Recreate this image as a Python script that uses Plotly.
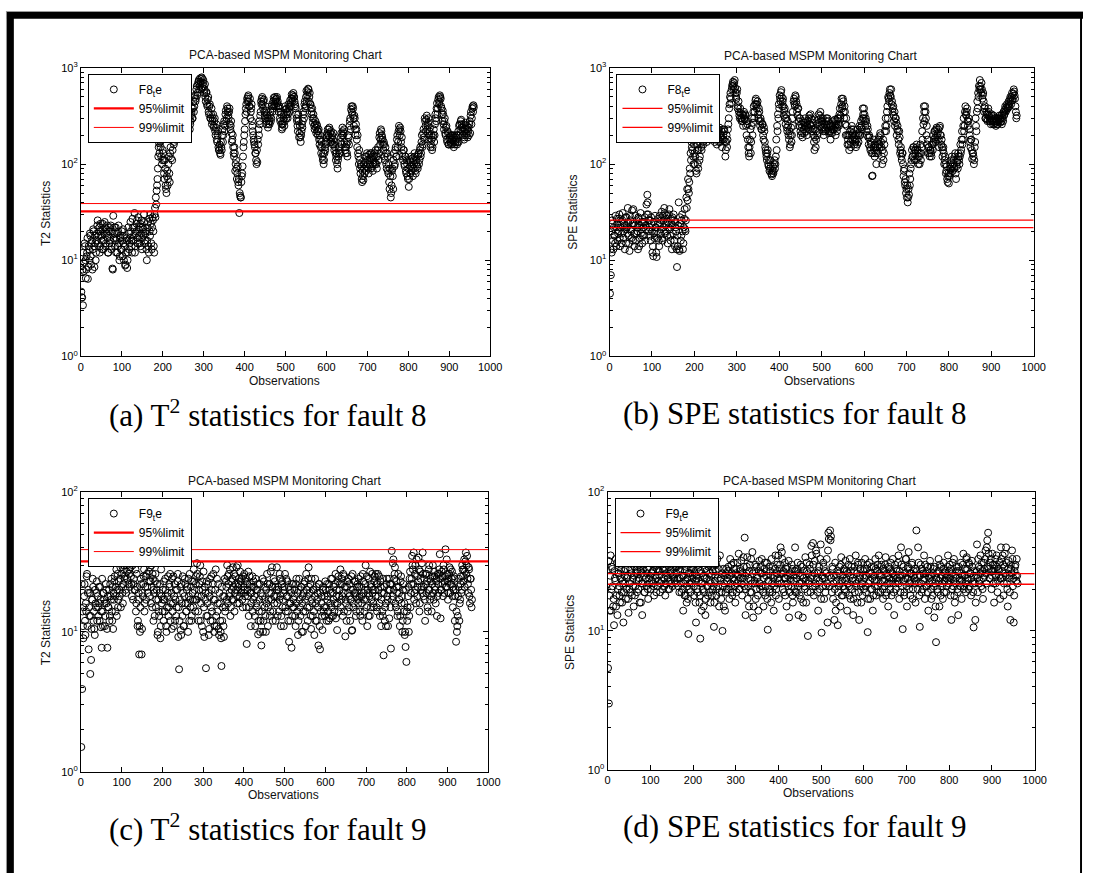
import plotly.graph_objects as go

FIG_W, FIG_H = 1095, 879

# ---------------- data ----------------
obs_odd = list(range(1, 961, 2))   # observations 1, 3, ..., 959
obs_even = list(range(2, 961, 2))  # observations 2, 4, ..., 960

t2_fault8_odd = [
    4.7, 4.1, 3.4, 7.7, 15, 10, 8, 12, 6.4, 14, 10, 18, 9, 16, 13, 20, 8.5, 15, 12, 19,
    26, 18, 22, 14, 20, 16, 24, 13, 19, 22, 15, 21, 17, 12, 20, 16, 23, 14, 8.2, 29,
    19, 14, 22, 17, 12, 20, 15, 11, 18, 13, 16, 21, 10, 14, 9, 17, 8.3, 12, 19, 15,
    25, 16, 12, 22, 18, 31, 14, 20, 26, 17, 21, 15, 24, 19, 13, 22, 18, 25, 16, 20,
    10, 22, 14, 27, 18, 24, 13, 28, 20, 12, 35, 45, 53, 70, 120, 165, 190, 150, 180, 110,
    130, 80, 110, 60, 50, 85, 70, 120, 65, 150, 180, 110, 200, 160, 230, 180, 260, 200, 240, 300,
    230, 300, 220, 280, 240, 330, 250, 220, 310, 260, 230, 290, 350, 260, 320, 380, 300, 450, 400, 520,
    480, 650, 550, 720, 600, 780, 700, 800, 620, 750, 550, 680, 450, 560, 400, 500, 330, 420, 300, 380,
    280, 330, 240, 300, 200, 260, 170, 220, 140, 160, 125, 150, 200, 170, 260, 220, 330, 280, 400, 350,
    300, 380, 230, 280, 170, 200, 130, 150, 85, 110, 70, 95, 60, 31, 47, 45, 75, 95, 150, 200,
    280, 380, 350, 450, 520, 400, 480, 350, 420, 250, 200, 170, 150, 130, 100, 105, 160, 200, 260, 350,
    420, 500, 380, 470, 320, 400, 260, 330, 240, 300, 260, 350, 300, 420, 380, 490, 420, 470, 400, 500,
    450, 350, 400, 280, 330, 230, 260, 300, 250, 400, 330, 380, 300, 420, 350, 460, 400, 530, 480, 550,
    500, 420, 380, 300, 250, 330, 190, 250, 170, 220, 240, 350, 300, 450, 400, 580, 520, 610, 450, 550,
    420, 330, 380, 270, 300, 230, 280, 210, 250, 200, 230, 160, 180, 130, 150, 110, 100, 130, 140, 170,
    190, 230, 200, 240, 170, 220, 190, 160, 210, 140, 150, 110, 130, 90, 120, 150, 130, 190, 160, 240,
    200, 230, 150, 130, 160, 120, 200, 160, 280, 230, 400, 330, 380, 250, 300, 200, 230, 150, 130, 100,
    110, 80, 95, 65, 75, 100, 80, 120, 95, 130, 100, 80, 110, 130, 90, 120, 85, 110, 130, 100,
    120, 90, 140, 110, 190, 160, 230, 200, 180, 140, 160, 110, 130, 90, 120, 80, 65, 90, 45, 60,
    90, 55, 130, 100, 150, 120, 200, 170, 250, 200, 220, 150, 130, 110, 140, 95, 120, 80, 100, 70,
    58, 110, 80, 120, 95, 75, 110, 130, 85, 100, 120, 90, 130, 110, 150, 130, 200, 160, 230, 180,
    280, 220, 320, 250, 300, 200, 240, 160, 180, 150, 200, 170, 260, 300, 380, 330, 470, 420, 520, 480,
    380, 280, 330, 230, 300, 200, 250, 170, 210, 160, 190, 170, 200, 160, 190, 150, 200, 170, 180, 160,
    200, 170, 260, 230, 290, 240, 200, 260, 190, 230, 200, 250, 190, 240, 260, 210, 350, 300, 400, 410,
]
t2_fault8_even = [
    4.1, 8, 12, 9.5, 14, 6.5, 11, 17, 8.5, 13, 19, 11, 15, 8, 21, 14, 18, 10, 16, 23,
    15, 20, 12, 24, 18, 13, 21, 16, 25, 14, 19, 23, 12, 18, 15, 22, 13, 20, 8, 17,
    22, 16, 12, 19, 14, 23, 10, 17, 13, 20, 11, 15, 18, 8.8, 12, 16, 10, 22, 13, 17,
    20, 14, 27, 16, 22, 12, 19, 24, 15, 28, 18, 22, 14, 26, 17, 21, 30, 15, 19, 13,
    16, 25, 12, 20, 30, 15, 22, 26, 14, 30, 28, 38, 60, 90, 150, 130, 170, 120, 100, 140,
    110, 70, 90, 55, 75, 60, 100, 80, 130, 115, 190, 140, 220, 170, 200, 250, 210, 230, 270, 240,
    270, 220, 300, 250, 260, 230, 290, 240, 280, 330, 250, 300, 230, 280, 340, 300, 380, 350, 500, 450,
    600, 520, 680, 750, 650, 720, 600, 780, 700, 650, 600, 500, 550, 420, 470, 350, 400, 300, 330, 260,
    300, 250, 280, 220, 240, 180, 200, 150, 140, 130, 170, 140, 230, 200, 280, 250, 360, 300, 380, 320,
    350, 260, 250, 210, 180, 150, 120, 130, 100, 90, 80, 65, 70, 50, 45, 65, 80, 120, 170, 230,
    330, 420, 480, 500, 450, 400, 300, 380, 280, 220, 180, 160, 130, 110, 140, 180, 230, 280, 320, 450,
    480, 420, 450, 350, 300, 360, 280, 300, 260, 280, 320, 280, 400, 350, 450, 400, 500, 450, 480, 430,
    400, 380, 300, 350, 260, 240, 280, 330, 280, 370, 300, 350, 330, 380, 400, 430, 480, 450, 520, 500,
    450, 400, 330, 280, 220, 280, 210, 190, 200, 260, 280, 330, 420, 380, 500, 450, 560, 600, 500, 420,
    380, 350, 300, 330, 250, 260, 240, 260, 220, 220, 180, 200, 150, 170, 120, 130, 110, 150, 160, 200,
    210, 200, 230, 190, 210, 170, 200, 180, 160, 170, 130, 120, 100, 110, 140, 130, 170, 210, 200, 220,
    210, 170, 140, 150, 130, 170, 190, 250, 300, 370, 350, 400, 300, 320, 230, 260, 180, 200, 120, 140,
    90, 100, 70, 85, 68, 90, 105, 85, 120, 110, 90, 125, 100, 115, 130, 95, 100, 120, 105, 140,
    100, 120, 150, 130, 210, 180, 220, 190, 160, 170, 120, 150, 100, 130, 85, 100, 55, 75, 50, 85,
    75, 110, 95, 140, 120, 180, 150, 220, 230, 240, 170, 190, 120, 140, 100, 120, 85, 110, 75, 90,
    70, 95, 105, 85, 115, 90, 100, 120, 80, 110, 95, 125, 100, 140, 120, 170, 150, 210, 190, 300,
    250, 290, 230, 270, 180, 220, 150, 200, 140, 190, 230, 200, 330, 280, 430, 380, 500, 450, 500, 400,
    330, 360, 260, 280, 210, 240, 180, 220, 160, 180, 200, 160, 180, 200, 170, 190, 160, 190, 200, 170,
    220, 250, 200, 280, 260, 220, 240, 180, 220, 270, 210, 230, 220, 200, 280, 320, 260, 380, 350, 390,
]

spe_fault8_odd = [
    4.5, 7, 12, 24, 13, 18, 15, 22, 27, 16, 20, 30, 14, 25, 19, 31, 17, 23, 28, 15,
    22, 35, 18, 12.5, 26, 20, 33, 16, 24, 14, 29, 19, 22, 13, 27, 17, 31, 21, 15, 25,
    18, 28, 23, 38, 48, 30, 20, 26, 16, 24, 12, 11, 19, 29, 22, 10.8, 17, 27, 14, 24,
    21, 32, 16, 26, 35, 19, 24, 29, 15, 22, 34, 18, 27, 13, 23, 30, 16, 25, 20, 8.5,
    14, 40, 12.5, 24, 18, 30, 13, 22, 34, 20, 45, 55, 70, 50, 90, 130, 170, 140, 120, 160,
    100, 180, 80, 140, 90, 170, 120, 200, 140, 230, 160, 210, 190, 250, 170, 220, 200, 260, 180, 230,
    200, 240, 180, 220, 190, 230, 160, 210, 180, 240, 170, 200, 150, 230, 180, 220, 120, 170, 150, 230,
    300, 420, 550, 430, 650, 720, 600, 750, 550, 480, 600, 400, 350, 300, 340, 280, 330, 250, 350, 290,
    320, 200, 260, 150, 120, 180, 130, 250, 200, 350, 300, 420, 480, 380, 450, 300, 350, 250, 280, 230,
    260, 180, 220, 150, 130, 110, 140, 95, 85, 110, 80, 75, 95, 85, 110, 100, 180, 250, 330, 420,
    520, 450, 590, 400, 480, 320, 380, 260, 300, 220, 250, 180, 150, 200, 170, 300, 250, 480, 400, 500,
    420, 320, 380, 250, 300, 200, 240, 190, 270, 210, 300, 250, 200, 280, 230, 320, 260, 300, 220, 270,
    200, 140, 230, 180, 260, 210, 330, 250, 350, 280, 240, 300, 200, 260, 220, 300, 240, 280, 210, 250,
    180, 250, 210, 280, 230, 290, 200, 260, 240, 300, 250, 380, 320, 480, 400, 450, 300, 350, 200, 250,
    160, 200, 140, 220, 150, 250, 180, 230, 160, 200, 150, 180, 230, 170, 250, 200, 280, 230, 380, 300,
    330, 250, 280, 200, 230, 160, 190, 140, 160, 75, 130, 180, 120, 150, 100, 170, 130, 190, 150, 200,
    150, 100, 180, 130, 220, 300, 250, 400, 500, 450, 600, 500, 420, 350, 400, 280, 250, 300, 200, 250,
    180, 220, 130, 150, 110, 130, 75, 90, 60, 50, 45, 40, 55, 80, 70, 100, 140, 120, 150, 110,
    140, 110, 150, 120, 130, 100, 160, 130, 220, 300, 400, 280, 350, 200, 160, 130, 150, 120, 140, 120,
    160, 200, 180, 220, 170, 240, 190, 230, 150, 250, 200, 180, 120, 150, 100, 120, 80, 95, 65, 80,
    75, 100, 90, 120, 85, 110, 95, 130, 70, 110, 90, 120, 100, 160, 140, 220, 180, 300, 250, 400,
    320, 380, 250, 300, 200, 150, 180, 113, 130, 100, 150, 300, 220, 450, 550, 650, 750, 600, 700, 480,
    550, 350, 400, 300, 330, 280, 380, 320, 300, 260, 330, 280, 320, 260, 300, 250, 280, 260, 300, 320,
    270, 320, 260, 300, 350, 330, 400, 360, 420, 380, 450, 400, 500, 420, 550, 480, 600, 520, 400, 300,
]
spe_fault8_even = [
    13, 20, 26, 16, 22, 18, 29, 14, 24, 19, 27, 17, 22, 15, 26, 20, 24, 13, 21, 28,
    19, 25, 15, 29, 21, 17, 24, 34, 19, 23, 16, 26, 20, 28, 14, 23, 19, 25, 18, 22,
    25, 16, 21, 30, 40, 26, 22, 18, 28, 20, 14, 25, 17, 22, 12, 20, 24, 16, 29, 19,
    26, 17, 29, 22, 31, 20, 27, 18, 25, 30, 21, 16, 24, 28, 19, 26, 14, 22, 13, 18,
    23, 13, 28, 16, 26, 20, 15, 27, 21, 26, 35, 42, 55, 65, 80, 110, 150, 180, 100, 130,
    120, 85, 160, 100, 140, 110, 190, 150, 210, 170, 230, 180, 220, 200, 240, 190, 230, 210, 250, 200,
    230, 190, 210, 170, 240, 200, 190, 230, 170, 210, 190, 220, 180, 200, 230, 170, 140, 200, 180, 260,
    380, 500, 480, 600, 680, 650, 700, 620, 500, 550, 380, 450, 320, 380, 300, 300, 280, 320, 300, 330,
    250, 280, 180, 130, 150, 230, 170, 300, 270, 400, 350, 460, 420, 420, 330, 380, 280, 300, 230, 260,
    200, 240, 170, 140, 120, 130, 100, 110, 90, 95, 78, 85, 80, 100, 90, 120, 140, 220, 300, 380,
    480, 560, 500, 450, 400, 360, 300, 330, 240, 280, 200, 220, 160, 240, 200, 350, 450, 420, 520, 450,
    350, 380, 280, 300, 220, 260, 210, 280, 230, 250, 270, 220, 250, 240, 300, 260, 330, 250, 290, 230,
    170, 190, 150, 220, 200, 290, 270, 320, 300, 260, 280, 220, 240, 230, 280, 260, 300, 220, 260, 220,
    210, 230, 250, 230, 260, 250, 280, 220, 300, 260, 330, 300, 420, 380, 480, 350, 400, 260, 300, 200,
    180, 160, 200, 170, 230, 200, 210, 190, 180, 170, 200, 160, 200, 210, 200, 240, 250, 300, 330, 380,
    280, 300, 220, 250, 190, 200, 150, 170, 130, 76, 150, 140, 160, 130, 140, 150, 180, 160, 210, 170,
    120, 140, 110, 160, 250, 220, 350, 300, 480, 550, 520, 600, 450, 380, 320, 350, 300, 270, 230, 220,
    160, 190, 140, 120, 130, 100, 85, 65, 70, 55, 60, 45, 48, 60, 90, 110, 120, 150, 130, 140,
    130, 160, 140, 100, 120, 130, 110, 150, 180, 260, 350, 400, 300, 250, 180, 150, 130, 140, 130, 160,
    140, 170, 220, 190, 230, 200, 210, 180, 240, 200, 160, 150, 140, 130, 110, 100, 85, 70, 75, 63,
    90, 80, 110, 95, 100, 90, 120, 80, 95, 105, 130, 110, 120, 130, 180, 160, 250, 220, 350, 330,
    350, 280, 280, 230, 170, 180, 140, 130, 120, 110, 170, 250, 350, 380, 500, 600, 650, 550, 600, 520,
    450, 380, 300, 350, 290, 330, 350, 280, 280, 320, 290, 260, 280, 300, 270, 280, 260, 300, 280, 290,
    300, 280, 330, 280, 320, 370, 350, 390, 380, 400, 420, 470, 450, 500, 460, 540, 570, 480, 350, 320,
]

t2_fault9_odd = [
    1.5, 3.9, 11, 15, 22, 9.5, 14, 26, 19, 7.5, 13, 5, 6.3, 17, 24, 12, 10.5, 20, 15, 23,
    18, 13, 16, 21, 10.8, 7.7, 14, 19, 17, 11, 22, 16, 7.7, 15, 20, 13, 18, 24, 12, 10.5,
    17, 25, 14, 28, 20, 15, 23, 18, 29, 21, 26, 16, 30, 24, 33, 19, 27, 35, 22, 28,
    34, 25, 18, 30, 22, 35, 20, 14, 26, 11, 17, 6.9, 10, 24, 6.9, 19, 22, 28, 16, 25,
    33, 21, 35, 27, 18, 23, 30, 15, 24, 20, 13, 26, 17, 22, 10, 14, 19, 9, 28, 16,
    20, 12, 17, 24, 11, 15, 19, 13, 22, 26, 16, 10.5, 14, 25, 18, 12, 20, 15, 23, 9.2,
    5.4, 17, 10.3, 22, 13, 19, 11, 24, 16, 14, 21, 10, 18, 26, 15, 12, 23, 17, 28, 20,
    14, 25, 31, 18, 12, 22, 30, 16, 11, 20, 27, 9.2, 17, 5.5, 23, 13, 19, 10.5, 24, 15,
    20, 12, 26, 10, 17, 28, 11, 14, 22, 9.5, 16, 10, 5.7, 12, 18, 9.2, 24, 15, 21, 30,
    16, 26, 19, 13, 23, 17, 29, 21, 14, 25, 20, 18, 30, 22, 16, 27, 19, 24, 15, 21,
    26, 18, 23, 8.2, 20, 27, 15, 22, 11, 19, 25, 17, 21, 13, 24, 16, 20, 9.6, 14, 22,
    12, 8, 18, 10, 23, 15, 13, 20, 26, 11, 17, 22, 14, 19, 29, 12, 24, 16, 21, 18,
    29, 13, 20, 17, 24, 11, 22, 15, 19, 21, 26, 14, 18, 23, 12, 8.5, 20, 16, 7.7, 13,
    22, 15, 18, 11, 24, 14, 9.5, 20, 17, 13, 21, 16, 10, 19, 23, 14, 26, 18, 12, 29,
    15, 22, 10.5, 17, 13, 20, 9.5, 24, 16, 12, 19, 8, 22, 7.5, 14, 18, 10.3, 21, 15, 13,
    20, 12, 17, 14, 22, 12.5, 19, 15, 24, 13, 21, 16, 26, 18, 10.3, 23, 14, 20, 28, 17,
    22, 13, 19, 25, 9.3, 16, 21, 14, 24, 18, 12, 20, 10.2, 26, 15, 19, 23, 13, 18, 22,
    16, 21, 14, 25, 18, 12, 23, 17, 20, 30, 15, 11, 19, 24, 13, 22, 17, 26, 20, 15,
    25, 18, 22, 14, 26, 20, 16, 23, 11, 19, 13, 6.8, 21, 15, 11, 24, 17, 20, 12.5, 22,
    7.6, 38, 18, 33, 24, 29, 15, 21, 13, 26, 19, 11, 23, 16, 10, 20, 14, 9.5, 7.8, 6.1,
    12, 18, 10, 24, 15, 22, 35, 28, 37, 19, 30, 16, 25, 21, 34, 14, 27, 20, 31, 37,
    18, 24, 12, 22, 26, 15, 20, 30, 17, 23, 14, 25, 19, 27, 21, 16, 24, 18, 22, 26,
    36, 12.5, 20, 25, 18, 28, 23, 39, 21, 26, 17, 24, 29, 19, 22, 27, 15, 20, 24, 18,
    8.5, 10, 13, 21, 12, 17, 25, 20, 28, 23, 33, 27, 37, 30, 24, 19, 28, 16, 24, 15,
]
t2_fault9_even = [
    22, 14, 9, 18, 12, 16, 25, 11, 20, 15, 19, 13, 10.5, 17, 21, 14, 9.5, 16, 19, 12,
    15, 21, 12, 17, 14, 24, 11, 19, 16, 13, 20, 10.5, 18, 15, 12, 22, 17, 14, 21, 19,
    23, 18, 21, 13, 26, 17, 20, 24, 15, 31, 19, 22, 28, 25, 20, 30, 24, 34, 26, 21,
    29, 22, 33, 17, 24, 20, 28, 16, 21, 12, 19, 11, 15, 22, 10.5, 18, 25, 14, 21, 17,
    26, 19, 34, 23, 29, 16, 21, 26, 12, 19, 23, 15, 20, 9.5, 17, 13, 22, 11, 18, 14,
    17, 23, 14, 20, 10, 18, 25, 15, 21, 12, 19, 24, 16, 11, 22, 17, 13, 20, 26, 15,
    12, 21, 9.5, 16, 25, 11, 18, 22, 14, 20, 16, 24, 12, 17, 21, 13, 19, 15, 23, 17,
    22, 17, 26, 14, 20, 25, 12, 18, 23, 10, 15, 21, 19, 13, 16, 22, 9.5, 18, 12, 25,
    14, 22, 17, 11, 20, 13, 24, 16, 10.5, 19, 12, 9, 21, 15, 11, 18, 14, 23, 17, 25,
    22, 18, 28, 15, 20, 24, 17, 26, 19, 22, 29, 16, 21, 24, 18, 23, 20, 17, 25, 19,
    20, 24, 15, 22, 18, 13, 25, 19, 16, 21, 14, 23, 18, 11, 20, 15, 22, 12, 17, 10,
    19, 14, 24, 12, 17, 21, 10, 16, 22, 15, 19, 13, 27, 17, 21, 14, 18, 23, 12, 20,
    16, 21, 14, 26, 18, 13, 23, 17, 11, 20, 15, 24, 18, 14, 21, 16, 12, 19, 22, 15,
    17, 20, 13, 22, 16, 19, 12, 24, 15, 21, 10, 18, 14, 22, 17, 11, 20, 15, 24, 21,
    19, 13, 24, 16, 20, 14, 18, 12, 21, 17, 15, 22, 11, 19, 16, 13, 20, 14, 18, 23,
    15, 22, 18, 12, 20, 16, 24, 13, 19, 17, 14, 22, 12.5, 20, 16, 25, 18, 22, 15, 24,
    18, 26, 14, 21, 17, 12, 23, 19, 15, 22, 17, 25, 10.3, 20, 16, 23, 19, 14, 21, 17,
    24, 18, 13, 21, 16, 26, 19, 14, 22, 17, 25, 20, 13, 18, 27, 15, 21, 19, 16, 23,
    20, 26, 15, 22, 18, 25, 13, 21, 17, 14, 24, 19, 12, 16, 22, 18, 11, 24, 20, 15,
    22, 17, 31, 20, 26, 16, 23, 19, 14, 21, 17, 13, 25, 18, 12, 22, 16, 10, 20, 14,
    15, 21, 13, 27, 19, 24, 30, 22, 17, 26, 20, 33, 18, 23, 28, 16, 24, 21, 19, 26,
    21, 17, 26, 19, 23, 14, 28, 20, 24, 18, 22, 30, 17, 25, 20, 23, 13, 26, 19, 28,
    24, 20, 27, 22, 30, 19, 25, 21, 33, 23, 19, 26, 22, 28, 24, 18, 21, 25, 12, 20,
    14, 11, 18, 24, 16, 22, 19, 30, 25, 28, 21, 32, 26, 35, 22, 29, 18, 24, 20, 17,
]

spe_fault9_odd = [
    5.4, 3, 14, 35, 20, 28, 15, 11, 24, 33, 18, 13, 26, 21, 16, 30, 19, 23, 11.5, 27,
    22, 17, 31, 25, 13.5, 20, 28, 34, 18, 24, 15, 29, 21, 26, 19, 32, 23, 16, 27, 22,
    13, 30, 25, 19, 33, 21, 28, 17, 24, 31, 20, 26, 35, 22, 18, 29, 24, 33, 21, 27,
    25, 19, 32, 23, 28, 35, 21, 18, 26, 30, 24, 33, 20, 27, 22, 31, 25, 36, 23, 29,
    26, 33, 21, 28, 24, 30, 19, 25, 14, 22, 27, 18, 16, 24, 9.5, 20, 26, 29, 22, 25,
    28, 18, 23, 11.5, 25, 19, 29, 16, 8.8, 22, 26, 20, 15, 24, 13, 27, 21, 18, 30, 23,
    16, 25, 20, 29, 10.7, 23, 27, 18, 33, 21, 15, 35, 24, 19, 10, 28, 22, 14, 26, 20,
    24, 29, 17, 33, 21, 26, 19, 31, 23, 16, 28, 22, 25, 36, 20, 27, 32, 18, 24, 29,
    47, 13, 26, 34, 21, 15, 30, 23, 19, 37, 12.5, 27, 22, 17, 29, 24, 14, 32, 20, 26,
    33, 21, 15, 28, 18, 25, 31, 10.2, 23, 19, 27, 16, 22, 29, 14, 25, 35, 20, 30, 24,
    17, 28, 40, 22, 33, 26, 19, 31, 24, 15, 29, 21, 12.5, 26, 23, 30, 18, 25, 20, 40,
    27, 19, 31, 13, 22, 25, 17, 29, 12.5, 24, 21, 34, 16, 27, 9.2, 23, 30, 19, 41, 25,
    43, 18, 32, 22, 36, 26, 14, 29, 20, 42, 9.7, 24, 31, 17, 27, 21, 33, 11.5, 51, 25,
    53, 48, 19, 28, 22, 12, 31, 16, 25, 11, 21, 29, 15, 34, 23, 18, 27, 20, 32, 24,
    14, 26, 21, 33, 17, 29, 23, 13, 27, 19, 35, 22, 16, 30, 12, 25, 21, 31, 18, 27,
    24, 33, 19, 28, 9.8, 22, 31, 17, 26, 20, 14, 29, 23, 33, 18, 27, 21, 35, 25, 19,
    30, 23, 17, 27, 21, 34, 19, 25, 15, 28, 22, 31, 18, 26, 24, 13, 30, 20, 27, 23,
    35, 17, 25, 40, 21, 10.3, 29, 19, 24, 33, 15, 28, 37, 22, 18, 26, 31, 20, 27, 24,
    16, 53, 25, 40, 22, 10.7, 30, 19, 27, 23, 35, 17, 26, 21, 29, 14, 24, 32, 20, 25,
    18, 28, 12.5, 22, 8.3, 26, 19, 33, 15, 24, 29, 21, 17, 31, 23, 27, 19, 25, 35, 22,
    30, 18, 12, 26, 21, 33, 16, 24, 29, 20, 13, 27, 23, 31, 17, 25, 36, 21, 28, 19,
    34, 24, 20, 30, 26, 18, 32, 22, 10.6, 27, 12, 25, 42, 19, 29, 23, 35, 21, 27, 17,
    31, 25, 38, 22, 45, 51, 28, 24, 33, 20, 36, 27, 16, 30, 22, 35, 19, 28, 25, 17,
    40, 24, 35, 18, 29, 26, 40, 22, 15, 32, 25, 12, 28, 38, 21, 11.5, 27, 30, 23, 25,
]
spe_fault9_even = [
    32, 18, 25, 14, 29, 21, 17, 27, 23, 15, 31, 20, 26, 18, 24, 28, 16, 22, 19, 25,
    28, 20, 24, 17, 33, 22, 19, 26, 30, 21, 25, 18, 34, 23, 27, 20, 24, 29, 16, 26,
    22, 28, 19, 31, 24, 26, 20, 29, 22, 25, 33, 23, 27, 21, 30, 25, 19, 28, 23, 31,
    27, 22, 30, 20, 33, 24, 28, 22, 31, 25, 20, 29, 23, 26, 34, 21, 28, 24, 30, 22,
    29, 24, 31, 19, 27, 22, 35, 20, 25, 18, 23, 29, 21, 17, 26, 22, 19, 28, 24, 30,
    21, 26, 16, 24, 20, 30, 23, 18, 27, 14, 22, 25, 19, 28, 17, 24, 21, 29, 19, 26,
    22, 18, 27, 21, 16, 25, 30, 20, 24, 28, 19, 23, 17, 26, 21, 15, 25, 19, 28, 23,
    27, 20, 25, 22, 30, 18, 24, 28, 21, 26, 19, 31, 23, 20, 28, 24, 22, 26, 34, 21,
    25, 20, 29, 17, 24, 27, 19, 33, 22, 26, 15, 23, 30, 20, 25, 18, 27, 22, 29, 21,
    26, 19, 24, 31, 21, 27, 17, 23, 29, 20, 25, 33, 19, 24, 21, 28, 18, 26, 22, 35,
    23, 30, 26, 37, 20, 27, 24, 18, 28, 22, 25, 32, 19, 24, 21, 28, 16, 23, 27, 19,
    24, 28, 21, 26, 18, 30, 22, 25, 16, 27, 20, 23, 31, 19, 26, 22, 28, 24, 35, 21,
    30, 26, 21, 38, 24, 19, 27, 23, 33, 17, 25, 21, 29, 24, 19, 26, 22, 38, 46, 21,
    45, 24, 29, 17, 25, 20, 14, 23, 27, 19, 26, 22, 30, 18, 25, 21, 28, 23, 19, 27,
    22, 30, 18, 25, 27, 20, 24, 17, 29, 23, 21, 26, 31, 19, 24, 28, 16, 22, 25, 20,
    28, 21, 25, 30, 17, 26, 23, 20, 29, 24, 18, 25, 21, 28, 23, 30, 19, 26, 22, 29,
    25, 20, 28, 23, 30, 18, 26, 22, 29, 24, 20, 27, 23, 33, 19, 25, 22, 28, 24, 31,
    22, 27, 19, 30, 25, 23, 18, 26, 33, 21, 24, 29, 20, 26, 23, 30, 17, 25, 22, 28,
    23, 27, 20, 31, 18, 25, 22, 28, 20, 26, 24, 30, 21, 27, 19, 25, 22, 29, 17, 23,
    26, 21, 29, 15, 24, 20, 27, 23, 30, 18, 25, 22, 28, 19, 26, 24, 21, 29, 23, 27,
    24, 28, 20, 31, 23, 18, 25, 22, 27, 19, 29, 24, 21, 26, 23, 30, 20, 25, 22, 33,
    28, 23, 31, 21, 26, 24, 29, 19, 25, 22, 16, 27, 24, 33, 22, 28, 26, 31, 20, 24,
    28, 33, 26, 40, 29, 36, 24, 31, 27, 25, 30, 22, 28, 33, 25, 29, 23, 27, 31, 24,
    33, 27, 30, 22, 36, 25, 31, 20, 28, 24, 19, 30, 26, 33, 24, 18, 29, 25, 33, 22,
]

# control limits [95%, 99%]
t2_fault8_limits = [32.3, 38.9]
spe_fault8_limits = [21.9, 26.2]
t2_fault9_limits = [32.0, 38.8]
spe_fault9_limits = [21.7, 25.9]

limit_names = ["95%limit", "99%limit"]
series_names = ["F8<sub>t</sub>e", "F8<sub>t</sub>e", "F9<sub>t</sub>e", "F9<sub>t</sub>e"]
y_titles = ["T2 Statistics", "SPE Statistics", "T2 Statistics", "SPE Statistics"]
captions = [
    "(a) T<sup>2</sup> statistics for fault 8",
    "(b) SPE statistics for fault 8",
    "(c) T<sup>2</sup> statistics for fault 9",
    "(d) SPE statistics for fault 9",
]
chart_title = "PCA-based MSPM Monitoring Chart"
x_title = "Observations"
x_range = [0, 1000]
x_ticks = list(range(0, 1001, 100))

# ---------------- layout helpers ----------------
SANS = "Liberation Sans, Arial, Helvetica, sans-serif"
SERIF = "Liberation Serif, Times New Roman, Times, serif"


def fx(p):
    return p / FIG_W


def fy(p):
    return 1 - p / FIG_H


panels = [
    dict(odd=t2_fault8_odd, even=t2_fault8_even, lims=t2_fault8_limits, decades=3,
         xd=(79, 494), yd=(61, 354), leg=(86, 67), lw=(2.2, 1.0),
         title=(286.5, 48), xt=(285, 379), yt=(43, 209), cap=(269, 412)),
    dict(odd=spe_fault8_odd, even=spe_fault8_even, lims=spe_fault8_limits, decades=3,
         xd=(615, 1045), yd=(61, 354), leg=(622, 67), lw=(1.3, 1.3),
         title=(829, 49), xt=(828, 379), yt=(578, 208), cap=(803, 412)),
    dict(odd=t2_fault9_odd, even=t2_fault9_even, lims=t2_fault9_limits, decades=2,
         xd=(79, 492), yd=(492, 776), leg=(86, 498), lw=(2.2, 1.0),
         title=(285, 481), xt=(284, 800), yt=(43, 635), cap=(269, 833)),
    dict(odd=spe_fault9_odd, even=spe_fault9_even, lims=spe_fault9_limits, decades=2,
         xd=(613, 1046), yd=(492, 774), leg=(620, 498), lw=(1.3, 1.3),
         title=(828, 481), xt=(827, 798), yt=(575, 635), cap=(803, 832)),
]

fig = go.Figure()
annotations = []
layout_extra = {}

for i, p in enumerate(panels):
    n = i + 1
    suf = "" if n == 1 else str(n)
    xa, ya = "x" + suf, "y" + suf
    legname = "legend" + suf
    xs = obs_odd[:len(p["odd"])] + obs_even[:len(p["even"])]
    ys = p["odd"] + p["even"]

    fig.add_trace(go.Scatter(
        x=xs, y=ys, mode="markers", name=series_names[i],
        marker=dict(symbol="circle-open", size=7, color="black",
                    line=dict(width=1, color="black")),
        xaxis=xa, yaxis=ya, legend=legname, showlegend=True,
    ))
    for k in range(2):
        fig.add_trace(go.Scatter(
            x=x_range, y=[p["lims"][k]] * 2, mode="lines", name=limit_names[k],
            line=dict(color="#ff0000", width=p["lw"][k]),
            xaxis=xa, yaxis=ya, legend=legname, showlegend=True,
        ))

    dec = p["decades"]
    major = [10 ** d for d in range(dec + 1)]
    major_txt = ["10<sup>%d</sup>" % d for d in range(dec + 1)]
    minor = [m * 10 ** d for d in range(dec) for m in range(2, 10)]

    layout_extra["xaxis" + suf] = dict(
        domain=[fx(p["xd"][0]), fx(p["xd"][1])], anchor=ya,
        range=x_range, tickmode="array", tickvals=x_ticks,
        ticks="inside", ticklen=5, tickcolor="black", tickwidth=1,
        showline=True, linecolor="black", linewidth=1, mirror="ticks",
        showgrid=False, zeroline=False,
        tickfont=dict(family=SANS, size=11, color="black"),
    )
    layout_extra["yaxis" + suf] = dict(
        domain=[fy(p["yd"][1]), fy(p["yd"][0])], anchor=xa,
        type="log", range=[0, dec], tickmode="array",
        tickvals=major, ticktext=major_txt,
        ticks="inside", ticklen=5, tickcolor="black", tickwidth=1,
        minor=dict(tickmode="array", tickvals=minor, ticks="inside",
                   ticklen=3, tickcolor="black", showgrid=False),
        showline=True, linecolor="black", linewidth=1, mirror="ticks",
        showgrid=False, zeroline=False,
        tickfont=dict(family=SANS, size=11, color="black"),
    )
    layout_extra[legname] = dict(
        x=fx(p["leg"][0]), y=fy(p["leg"][1]), xanchor="left", yanchor="top",
        xref="paper", yref="paper",
        bgcolor="white", bordercolor="black", borderwidth=1,
        font=dict(family=SANS, size=12, color="black"),
        itemwidth=40, tracegroupgap=0,
    )

    annotations += [
        dict(text=chart_title, x=fx(p["title"][0]), y=fy(p["title"][1]),
             xref="paper", yref="paper", showarrow=False,
             xanchor="center", yanchor="middle",
             font=dict(family=SANS, size=12, color="#111")),
        dict(text=x_title, x=fx(p["xt"][0]), y=fy(p["xt"][1]),
             xref="paper", yref="paper", showarrow=False,
             xanchor="center", yanchor="middle",
             font=dict(family=SANS, size=12, color="#111")),
        dict(text=y_titles[i], x=fx(p["yt"][0]), y=fy(p["yt"][1]),
             xref="paper", yref="paper", showarrow=False, textangle=-90,
             xanchor="center", yanchor="middle",
             font=dict(family=SANS, size=12, color="#111")),
        dict(text=captions[i], x=fx(p["cap"][0]), y=fy(p["cap"][1]),
             xref="paper", yref="paper", showarrow=False,
             xanchor="center", yanchor="middle",
             font=dict(family=SERIF, size=31, color="black")),
    ]

# page frame (thick black left/top, thin right)
shapes = []


def rect(x0, y0, x1, y1, color):
    shapes.append(dict(type="rect", xref="paper", yref="paper",
                       x0=fx(x0), x1=fx(x1), y0=fy(y1), y1=fy(y0),
                       fillcolor=color, line=dict(width=0), layer="above"))


rect(3, 3, 4, FIG_H, "#9a9a9a")
rect(3, 3, FIG_W, 4, "#9a9a9a")
rect(4, 4, 11, FIG_H, "black")
rect(4, 4, FIG_W, 11, "black")
rect(1092, 4, 1094, FIG_H, "black")

fig.update_layout(
    width=FIG_W, height=FIG_H,
    margin=dict(l=0, r=0, t=0, b=0),
    paper_bgcolor="white", plot_bgcolor="white",
    annotations=annotations, shapes=shapes,
    **layout_extra,
)

fig.write_html("out.html")
